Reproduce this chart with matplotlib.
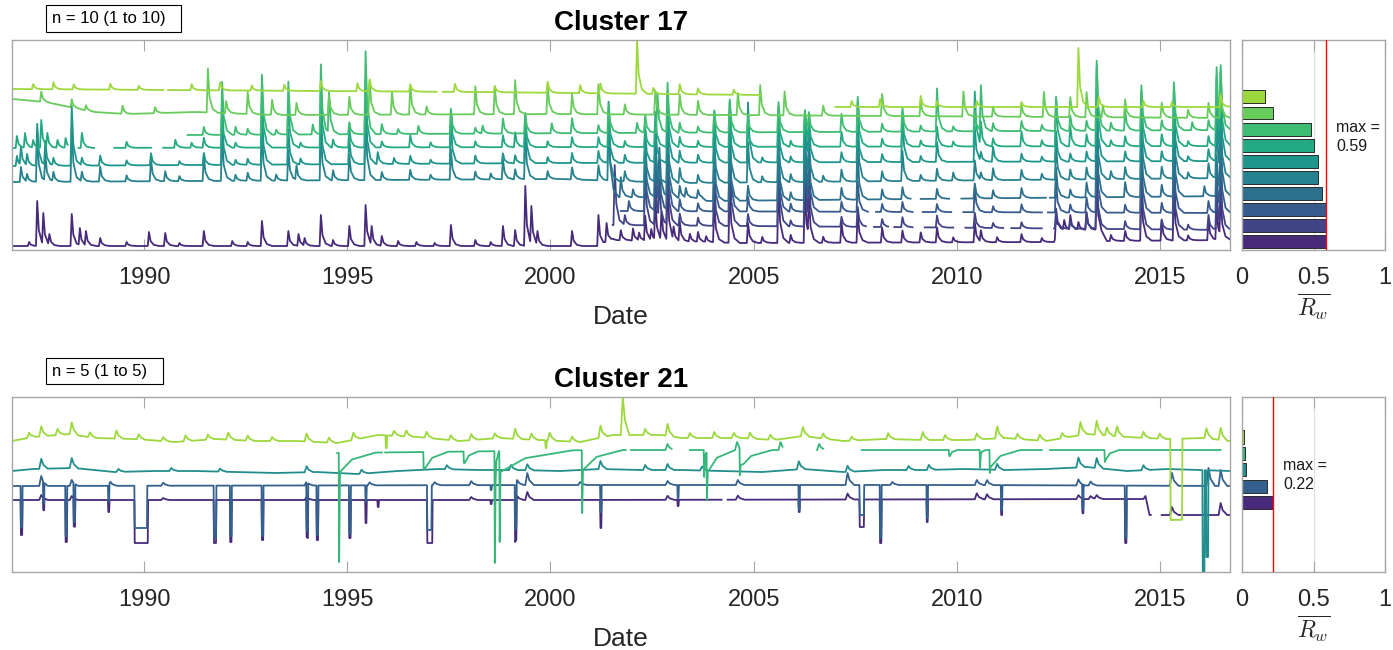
import numpy as np
import matplotlib
matplotlib.use("Agg")
import matplotlib.pyplot as plt
from matplotlib.patches import Rectangle

plt.rcParams["font.family"] = ["Liberation Sans", "DejaVu Sans"]
plt.rcParams["mathtext.fontset"] = "cm"

W, H = 1393, 650
X_LO, X_HI = 1986.75, 2016.72
year_ticks = [1990, 1995, 2000, 2005, 2010, 2015]

# ---------------- Cluster 17 (10 series, index 0 = series 1) ----------------
c17_rw = [0.59, 0.59, 0.585, 0.56, 0.53, 0.53, 0.505, 0.48, 0.22, 0.158]
c17_start = [X_LO, 2001.53, 2001.73, 2001.43, X_LO, X_LO, X_LO, 1991.07, X_LO, X_LO]

c17_level = [
    [(1986.75, 6), (2001.23, 6), (2001.53, 12), (2004.71, 9), (2012.39, 10), (2012.49, 22), (2013.49, 22), (2013.69, 11), (2016.72, 12)],
    [(2001.53, 27), (2008.21, 25), (2016.72, 22)],
    [(2001.73, 41), (2016.72, 39)],
    [(2001.43, 55), (2003.73, 54), (2003.83, 51), (2016.72, 56)],
    [(1986.75, 70), (2000.23, 73), (2003.23, 69), (2016.72, 74)],
    [(1986.75, 86), (2000.23, 89), (2016.72, 91)],
    [(1986.75, 104), (2016.72, 106)],
    [(1991.07, 117), (2016.72, 122)],
    [(1986.75, 153), (1987.57, 150), (1988.77, 140), (1989.57, 138), (1991.27, 140), (1993.25, 137), (2000.23, 138), (2016.72, 134)],
    [(1986.75, 163), (1998.23, 160), (2005.11, 157), (2007.01, 145), (2016.72, 145)],
]

# (year, rise above the local level)
c17_peaks = [
    [(1987.17, 4), (1987.37, 45), (1987.52, 33), (1987.67, 12), (1988.22, 32), (1988.42, 18), (1988.57, 15), (1988.92, 8),
     (1989.57, 4), (1990.12, 14), (1990.52, 13), (1990.87, 3), (1991.47, 15), (1992.17, 5), (1992.55, 4), (1992.9, 25),
     (1993.55, 15), (1993.8, 12), (1993.95, 8), (1994.35, 31), (1994.65, 6), (1995.05, 20), (1995.45, 41), (1995.6, 20),
     (1995.85, 10), (1996.25, 5), (1996.7, 4), (1997.15, 3), (1997.55, 21), (1998.15, 6), (1998.53, 4), (1998.83, 20),
     (1999.13, 16), (1999.38, 60), (1999.53, 40), (1999.68, 15), (2000.53, 15), (2001.18, 31), (2001.38, 20), (2001.73, 10),
     (2002.03, 12), (2002.18, 8), (2002.33, 25), (2002.48, 12), (2002.58, 40), (2002.73, 30), (2002.88, 60), (2003.03, 15),
     (2003.18, 20), (2003.43, 8), (2003.63, 10), (2003.83, 6), (2004.03, 40), (2004.41, 55), (2004.86, 20), (2005.21, 6),
     (2005.61, 60), (2005.91, 8), (2006.26, 55), (2006.36, 45), (2006.71, 6), (2007.16, 20), (2007.56, 30), (2008.16, 15),
     (2008.66, 12), (2009.11, 10), (2009.51, 15), (2009.91, 5), (2010.44, 20), (2010.59, 12), (2010.99, 5), (2011.59, 8),
     (2012.09, 4), (2012.44, 20), (2012.64, 10), (2012.79, 15), (2012.99, 8), (2013.19, 18), (2013.44, 40), (2013.79, 6),
     (2014.14, 10), (2014.54, 55), (2015.04, 20), (2015.34, 50), (2015.69, 5), (2016.19, 20), (2016.39, 35), (2016.49, 45)],
    [(2001.58, 60), (2001.83, 10), (2002.33, 55), (2002.58, 50), (2002.68, 45), (2002.88, 70), (2003.18, 12), (2003.63, 8),
     (2004.03, 45), (2004.41, 70), (2004.86, 12), (2005.61, 70), (2005.91, 6), (2006.26, 60), (2006.36, 55), (2007.16, 10),
     (2007.56, 20), (2008.16, 8), (2008.66, 10), (2009.51, 12), (2010.44, 15), (2010.89, 5), (2011.59, 6), (2012.44, 20),
     (2012.79, 8), (2013.19, 15), (2013.44, 60), (2014.14, 8), (2014.54, 60), (2015.04, 10), (2015.34, 60), (2015.69, 5),
     (2016.19, 15), (2016.39, 40), (2016.49, 60)],
    [(2001.93, 10), (2002.33, 55), (2002.58, 55), (2002.68, 50), (2002.88, 70), (2003.18, 12), (2003.63, 8), (2004.03, 50),
     (2004.41, 70), (2004.86, 15), (2005.61, 60), (2005.91, 8), (2006.26, 60), (2006.36, 55), (2007.16, 10), (2007.56, 30),
     (2008.16, 8), (2008.66, 10), (2009.51, 8), (2010.44, 25), (2010.89, 6), (2011.59, 8), (2012.44, 30), (2012.79, 8),
     (2013.19, 15), (2013.44, 70), (2014.14, 8), (2014.54, 60), (2015.04, 10), (2015.34, 60), (2016.19, 12), (2016.39, 40),
     (2016.49, 65)],
    [(2001.43, 95), (2001.73, 20), (2002.03, 8), (2002.33, 50), (2002.58, 55), (2002.68, 50), (2002.88, 65), (2003.18, 12),
     (2003.33, 10), (2003.63, 8), (2004.03, 50), (2004.41, 60), (2004.86, 15), (2005.61, 55), (2005.91, 8), (2006.26, 55),
     (2006.36, 50), (2007.16, 12), (2007.56, 45), (2008.16, 10), (2008.66, 12), (2009.51, 10), (2010.44, 15), (2010.89, 8),
     (2011.59, 10), (2012.44, 30), (2012.79, 8), (2013.19, 15), (2013.44, 70), (2014.14, 15), (2014.54, 60), (2015.04, 12),
     (2015.34, 65), (2016.09, 10), (2016.39, 40), (2016.49, 70)],
    [(1986.97, 15), (1987.12, 8), (1987.37, 50), (1987.57, 28), (1987.77, 10), (1988.22, 55), (1988.47, 10), (1988.92, 15),
     (1989.57, 6), (1990.17, 22), (1990.52, 10), (1990.87, 5), (1991.47, 25), (1991.92, 45), (1992.25, 6), (1992.55, 8),
     (1992.9, 50), (1993.25, 6), (1993.55, 30), (1993.75, 15), (1994.35, 50), (1994.65, 10), (1995.05, 25), (1995.45, 65),
     (1995.85, 8), (1996.55, 10), (1997.05, 5), (1997.55, 30), (1998.15, 8), (1998.53, 6), (1998.83, 20), (1999.13, 10),
     (1999.38, 45), (1999.93, 8), (2000.53, 12), (2001.18, 15), (2001.43, 55), (2001.83, 10), (2002.33, 40), (2002.58, 45),
     (2002.88, 60), (2003.18, 15), (2003.63, 8), (2004.03, 42), (2004.41, 55), (2004.86, 40), (2005.21, 6), (2005.61, 50),
     (2005.91, 8), (2006.26, 50), (2006.36, 45), (2006.71, 6), (2007.16, 12), (2007.56, 55), (2008.16, 10), (2008.66, 30),
     (2009.11, 6), (2009.51, 12), (2009.91, 8), (2010.44, 20), (2010.59, 8), (2010.89, 12), (2011.59, 10), (2012.09, 6),
     (2012.44, 35), (2012.79, 10), (2013.19, 12), (2013.44, 70), (2013.79, 8), (2014.14, 12), (2014.54, 60), (2015.04, 12),
     (2015.34, 65), (2015.69, 6), (2016.19, 15), (2016.39, 60), (2016.49, 65)],
    [(1986.87, 10), (1986.97, 20), (1987.12, 12), (1987.37, 42), (1987.57, 25), (1987.77, 8), (1988.22, 60), (1988.47, 8),
     (1988.92, 10), (1989.57, 5), (1990.17, 12), (1990.87, 4), (1991.47, 12), (1991.92, 50), (1992.25, 5), (1992.55, 6),
     (1992.9, 55), (1993.55, 35), (1993.85, 6), (1994.35, 55), (1995.05, 25), (1995.45, 70), (1995.75, 12), (1996.15, 6),
     (1996.55, 8), (1997.05, 4), (1997.55, 40), (1998.15, 8), (1998.83, 10), (1999.13, 8), (1999.38, 50), (1999.93, 6),
     (2000.53, 10), (2001.18, 12), (2001.43, 45), (2001.83, 8), (2002.33, 30), (2002.58, 40), (2002.88, 60), (2003.18, 12),
     (2003.63, 8), (2004.03, 40), (2004.41, 50), (2004.86, 60), (2005.21, 5), (2005.61, 45), (2005.91, 6), (2006.26, 45),
     (2006.36, 40), (2007.16, 10), (2007.56, 40), (2008.16, 8), (2008.66, 45), (2009.11, 6), (2009.51, 20), (2010.44, 35),
     (2010.59, 10), (2010.89, 15), (2011.59, 8), (2012.09, 5), (2012.44, 30), (2012.79, 8), (2013.19, 10), (2013.44, 70),
     (2014.14, 10), (2014.54, 55), (2015.04, 10), (2015.34, 60), (2015.69, 5), (2016.19, 12), (2016.39, 65), (2016.49, 70)],
    [(1986.87, 12), (1987.07, 15), (1987.27, 8), (1987.47, 28), (1987.62, 15), (1987.87, 8), (1988.07, 10), (1988.47, 15),
     (1988.87, 10), (1989.57, 6), (1990.77, 8), (1991.17, 5), (1991.47, 10), (1991.92, 40), (1992.25, 5), (1992.9, 60),
     (1993.55, 45), (1993.85, 5), (1994.35, 65), (1994.65, 8), (1995.05, 20), (1995.45, 70), (1995.85, 6), (1996.55, 12),
     (1997.05, 5), (1997.55, 37), (1998.15, 6), (1998.83, 12), (1999.13, 15), (1999.38, 30), (1999.93, 6), (2000.53, 10),
     (2001.18, 10), (2001.43, 40), (2001.83, 6), (2002.33, 20), (2002.58, 35), (2002.88, 55), (2003.18, 10), (2003.63, 6),
     (2004.03, 36), (2004.41, 45), (2004.86, 20), (2005.61, 40), (2005.91, 6), (2006.26, 36), (2006.36, 30), (2007.16, 15),
     (2007.56, 45), (2008.16, 8), (2008.66, 35), (2009.11, 6), (2009.51, 20), (2009.91, 5), (2010.44, 55), (2010.59, 25),
     (2010.89, 8), (2011.59, 15), (2012.09, 6), (2012.44, 48), (2012.79, 20), (2013.19, 12), (2013.44, 80), (2013.79, 6),
     (2014.14, 10), (2014.54, 55), (2015.04, 12), (2015.34, 60), (2015.69, 5), (2016.19, 10), (2016.39, 70), (2016.49, 75)],
    [(1991.47, 8), (1991.92, 53), (1992.25, 8), (1992.55, 6), (1992.9, 60), (1993.25, 5), (1993.55, 53), (1994.15, 10),
     (1994.35, 70), (1994.55, 42), (1995.05, 12), (1995.45, 83), (1995.85, 10), (1996.25, 5), (1996.75, 8), (1997.55, 25),
     (1998.15, 6), (1998.33, 8), (1998.83, 15), (1999.38, 20), (2000.03, 10), (2000.53, 15), (2001.18, 8), (2001.43, 30),
     (2002.13, 10), (2002.33, 18), (2002.63, 40), (2002.88, 50), (2003.18, 10), (2003.63, 6), (2004.03, 22), (2004.41, 33),
     (2004.86, 15), (2005.61, 30), (2006.26, 22), (2006.36, 20), (2007.16, 18), (2007.56, 35), (2008.16, 8), (2008.66, 24),
     (2009.11, 6), (2009.51, 43), (2009.91, 5), (2010.44, 20), (2010.59, 46), (2010.89, 8), (2011.59, 10), (2012.09, 6),
     (2012.44, 34), (2012.79, 15), (2013.19, 10), (2013.44, 70), (2013.79, 8), (2014.14, 20), (2014.54, 45), (2015.04, 10),
     (2015.34, 48), (2015.79, 8), (2016.19, 10), (2016.39, 63), (2016.49, 65)],
    [(1987.47, 10), (1988.22, 8), (1988.57, 5), (1989.47, 8), (1990.27, 6), (1991.57, 44), (1992.02, 12), (1992.55, 22),
     (1993.15, 15), (1993.75, 12), (1994.55, 20), (1995.05, 18), (1995.55, 34), (1996.1, 22), (1996.55, 30), (1996.95, 8),
     (1998.15, 28), (1998.63, 28), (1999.13, 34), (1999.93, 30), (2000.53, 20), (2001.18, 30), (2001.83, 10), (2002.58, 24),
     (2003.18, 20), (2003.63, 14), (2004.61, 22), (2005.16, 30), (2005.76, 24), (2006.71, 10), (2008.16, 22), (2009.11, 15),
     (2010.16, 25), (2010.89, 10), (2011.59, 12), (2012.14, 25), (2012.79, 20), (2013.19, 25), (2013.59, 12), (2014.14, 18),
     (2015.04, 15), (2015.69, 8), (2016.19, 15), (2016.49, 25)],
    [(1987.27, 5), (1987.77, 7), (1988.27, 5), (1989.17, 6), (1989.87, 4), (1991.17, 6), (1991.87, 8), (1992.65, 5),
     (1993.45, 6), (1994.35, 10), (1995.25, 8), (1995.55, 12), (1996.55, 7), (1997.65, 8), (1998.63, 6), (1999.93, 11),
     (2000.73, 8), (2001.23, 10), (2002.13, 55), (2002.53, 6), (2003.18, 10), (2003.63, 6), (2004.51, 5), (2007.41, 6),
     (2008.11, 8), (2009.11, 11), (2009.51, 6), (2010.49, 6), (2011.59, 5), (2012.99, 59), (2013.49, 10), (2014.59, 6),
     (2015.29, 5), (2016.49, 12)],
]

c17_gaps = [
    [],
    [(2007.76, 2007.96), (2008.31, 2008.46), (2008.91, 2009.21), (2009.91, 2010.21), (2011.14, 2011.34), (2012.09, 2012.39)],
    [(2007.81, 2008.01), (2008.91, 2009.16), (2009.86, 2010.16), (2012.09, 2012.24)],
    [(2008.86, 2009.11), (2009.81, 2010.11), (2012.19, 2012.29)],
    [],
    [],
    [(1988.12, 1988.39), (1988.77, 1989.27), (1990.17, 1990.47)],
    [],
    [],
    [(1990.47, 1990.59), (1997.2, 1997.35), (2005.16, 2007.01)],
]

# ---------------- Cluster 21 (5 series, index 0 = series 1) ----------------
c21_rw = [0.22, 0.174, 0.025, 0.018, 0.014]
c21_start = [X_LO, X_LO, X_LO, 1994.75, X_LO]
c21_end = [X_HI, X_HI, X_HI, 2016.49, X_HI]

c21_level = [
    [(1986.75, 72), (2000.23, 72), (2014.59, 73), (2014.64, 76), (2014.74, 57), (2016.72, 57)],
    [(1986.75, 86), (2000.23, 87), (2010.19, 87), (2016.72, 86)],
    [(1986.75, 101), (1987.27, 103), (1988.27, 104), (1989.27, 100), (1990.27, 101), (1991.27, 101), (1992.25, 100),
     (1993.25, 99), (1994.25, 100), (1995.25, 98), (1996.25, 101), (1997.25, 103), (1998.23, 102), (1999.23, 102),
     (2000.23, 101), (2001.23, 103), (2002.23, 102), (2003.23, 102), (2004.21, 101), (2005.21, 100), (2006.21, 103),
     (2007.21, 100), (2008.21, 102), (2009.21, 102), (2010.19, 103), (2011.19, 102), (2012.19, 103), (2013.19, 105),
     (2014.19, 101), (2015.19, 103), (2016.72, 101)],
    [(1994.75, 119), (2001.23, 122), (2016.49, 122)],
    [(1986.75, 131), (1987.27, 135), (1988.17, 138), (1988.77, 134), (1989.77, 133), (1990.77, 130), (1991.77, 133),
     (1992.75, 131), (1993.75, 131), (1994.75, 129), (1995.75, 137), (1996.75, 135), (1997.75, 131), (1998.73, 134),
     (1999.73, 132), (2000.73, 130), (2001.53, 137), (2002.73, 137), (2003.23, 134), (2004.71, 134), (2005.51, 132),
     (2006.21, 136), (2007.21, 131), (2008.21, 133), (2009.21, 132), (2010.19, 132), (2011.19, 134), (2012.19, 131),
     (2013.19, 138), (2014.19, 135), (2015.19, 133), (2016.09, 134), (2016.72, 131)],
]

c21_bumps = [
    [(1987.47, 5), (1988.22, 4), (1990.47, 2), (1994.0, 3), (1998.05, 3), (1999.18, 4), (1999.43, 8), (2002.88, 4),
     (2004.61, 4), (2007.31, 6), (2010.49, 6), (2010.74, 5), (2012.99, 4), (2013.29, 3), (2013.44, 4), (2015.29, 8),
     (2016.49, 12)],
    [(1987.47, 10), (1988.22, 6), (1989.17, 4), (1990.47, 3), (1994.0, 4), (1995.55, 3), (1997.15, 3), (1998.05, 4),
     (1999.18, 5), (1999.43, 12), (2000.73, 3), (2002.88, 4), (2004.61, 5), (2007.31, 12), (2008.41, 3), (2010.49, 5),
     (2010.74, 5), (2012.99, 6), (2013.29, 4), (2015.29, 13), (2016.19, 18), (2016.49, 16)],
    [(1987.47, 10), (1988.22, 10), (1989.37, 3), (1990.67, 3), (1991.87, 3), (1994.0, 6), (1995.35, 4), (1997.45, 4),
     (1999.03, 5), (1999.43, 6), (2001.23, 8), (2002.33, 5), (2002.88, 6), (2003.73, 4), (2006.11, 8), (2007.31, 6),
     (2008.81, 4), (2009.31, 5), (2010.99, 6), (2012.99, 10), (2013.44, 10), (2014.59, 5)],
    [(2002.88, 6), (2004.59, 8), (2005.66, 8), (2006.61, 6)],
    [(1987.17, 5), (1987.47, 10), (1987.87, 6), (1988.22, 12), (1988.67, 5), (1989.32, 8), (1989.87, 5), (1990.47, 4),
     (1991.02, 6), (1991.57, 5), (1992.07, 7), (1992.55, 5), (1993.15, 4), (1994.0, 8), (1994.55, 5), (1995.15, 7),
     (1996.15, 5), (1996.45, 6), (1996.95, 6), (1997.55, 5), (1998.05, 6), (1998.63, 5), (1999.13, 10), (1999.53, 6),
     (1999.98, 8), (2000.53, 5), (2001.23, 12), (2001.78, 38), (2002.33, 6), (2002.88, 12), (2003.43, 5), (2004.03, 6),
     (2004.51, 5), (2004.91, 6), (2005.41, 5), (2006.21, 9), (2006.71, 5), (2007.41, 4), (2008.31, 6), (2009.16, 8),
     (2009.71, 5), (2010.49, 6), (2010.99, 12), (2011.49, 5), (2012.04, 6), (2012.59, 5), (2013.04, 13), (2013.44, 14),
     (2013.69, 8), (2013.94, 10), (2014.59, 6), (2014.99, 5), (2016.14, 10), (2016.49, 12)],
]

# (year, width, lowest value)
c21_dips = [
    [(1986.97, 0.03, 37), (1987.52, 0.02, 60), (1988.07, 0.03, 30), (1988.27, 0.03, 44), (1989.12, 0.02, 60),
     (1989.77, 0.32, 29), (1991.72, 0.05, 29), (1992.12, 0.03, 30), (1992.9, 0.03, 32), (1994.0, 0.03, 32),
     (1994.25, 0.03, 32), (1995.05, 0.03, 34), (1995.45, 0.02, 49), (1995.75, 0.02, 65), (1996.97, 0.12, 29),
     (1998.53, 0.02, 68), (1999.13, 0.03, 30), (2001.23, 0.02, 44), (2003.13, 0.02, 66), (2006.11, 0.02, 60),
     (2007.61, 0.1, 45), (2008.11, 0.03, 29), (2009.26, 0.02, 50), (2011.09, 0.02, 57), (2013.09, 0.02, 58),
     (2014.14, 0.03, 29)],
    [(1986.97, 0.03, 45), (1987.52, 0.02, 65), (1988.07, 0.03, 36), (1988.27, 0.03, 48), (1989.12, 0.02, 70),
     (1989.77, 0.3, 44), (1991.72, 0.05, 34), (1992.12, 0.03, 36), (1992.9, 0.03, 36), (1994.0, 0.03, 38),
     (1994.25, 0.03, 37), (1995.05, 0.03, 38), (1995.45, 0.02, 70), (1996.97, 0.1, 42), (1998.53, 0.02, 82),
     (1999.13, 0.03, 42), (2001.23, 0.02, 60), (2003.13, 0.02, 74), (2006.11, 0.02, 62), (2007.61, 0.1, 57),
     (2008.11, 0.03, 34), (2009.26, 0.02, 54), (2011.09, 0.02, 62), (2013.09, 0.02, 62), (2014.14, 0.03, 34)],
    [(2016.05, 0.04, -2), (2016.14, 0.04, 15)],
    [],
    [(1995.95, 0.02, 124), (1999.88, 0.02, 124), (2015.26, 0.28, 52)],
]

# (year, lowest value, value after the drop, recovery duration)
c21_recov = [
    [], [], [],
    [(1994.8, 10, 100, 0.9), (1996.88, 103, 103, 0.6), (1997.87, 109, 109, 0.35), (1998.63, 9, 90, 0.1),
     (1998.75, 30, 100, 1.8), (2000.78, 59, 102, 1.0), (2003.78, 95, 110, 0.1), (2003.85, 72, 100, 0.7),
     (2004.66, 94, 105, 0.8), (2009.81, 116, 116, 0.2), (2010.57, 104, 118, 0.15), (2010.81, 99, 105, 0.75),
     (2013.64, 110, 112, 0.35)],
    [],
]

c21_gaps = [
    [(2004.21, 2004.36), (2014.77, 2015.04)],
    [],
    [],
    [(1995.85, 1995.93), (2001.85, 2001.98), (2002.98, 2003.43), (2005.71, 2006.56), (2006.71, 2007.66), (2012.09, 2012.29)],
    [],
]


def series_xy(level, start, end, peaks=(), dips=(), recov=(), gaps=(),
              dx=(-0.03, 0.0, 0.04, 0.12, 0.25), fr=(0.0, 1.0, 0.35, 0.08, 0.0)):
    lx = np.array([p[0] for p in level], float)
    ly = np.array([p[1] for p in level], float)

    def base(t):
        return np.interp(t, lx, ly)

    shapes = []
    for t, r in peaks:
        shapes.append((t + np.array(dx), r * np.array(fr)))
    for t, w, low in dips:
        d = low - base(t)
        shapes.append((np.array([t - 0.01, t, t + w, t + w + 0.01]), np.array([0, d, d, 0])))
    for t, low, rec, dur in recov:
        b = base(t)
        shapes.append((np.array([t - 0.01, t, t + 0.02, t + 0.35 * dur, t + dur]),
                       np.array([0, low - b, rec - b, 0.35 * (rec - b), 0])))

    xs = set(lx.tolist()) | {start, end}
    for xp, _ in shapes:
        xs.update(xp.tolist())
    for a, b in gaps:
        xs.update([a, b, 0.5 * (a + b)])
    x = np.array(sorted(v for v in xs if start <= v <= end))
    up = np.zeros_like(x)
    down = np.zeros_like(x)
    for xp, fp in shapes:
        v = np.interp(x, xp, fp, left=0, right=0)
        up = np.maximum(up, v)
        down = np.minimum(down, v)
    y = base(x) + up + down
    for a, b in gaps:
        y[(x > a) & (x < b)] = np.nan
    return x, y


def style_axes(ax):
    for s in ax.spines.values():
        s.set_color("#a6a6a6")
        s.set_linewidth(1.0)
    ax.tick_params(axis="x", direction="in", top=True, bottom=True, length=8,
                   color="#a6a6a6", labelcolor="#262626", labelsize=17, pad=12.5)
    ax.set_yticks([])


fig = plt.figure(figsize=(W / 100, H / 100), dpi=100)

panels = [
    dict(top=40, bottom=250, title="Cluster 17", n_text="n = 10 (1 to 10)", box=(46, 5, 135, 27),
         rw=c17_rw, bar_ylim=(0.48, 13.54), max_xy=(0.657, 0.538), ylim=(2, 212)),
    dict(top=397, bottom=572, title="Cluster 21", n_text="n = 5 (1 to 5)", box=(46, 358, 117, 26),
         rw=c21_rw, bar_ylim=(-3.23, 7.44), max_xy=(0.287, 0.554), ylim=(0, 175)),
]

for k, p in enumerate(panels):
    h = p["bottom"] - p["top"]
    ax = fig.add_axes([12 / W, 1 - p["bottom"] / H, 1218 / W, h / H])
    bx = fig.add_axes([1242 / W, 1 - p["bottom"] / H, 143 / W, h / H])
    n = len(p["rw"])
    colors = plt.cm.viridis(np.linspace(0.12, 0.85, n))

    for i in range(n):
        if k == 0:
            x, y = series_xy(c17_level[i], c17_start[i], X_HI, peaks=c17_peaks[i], gaps=c17_gaps[i])
        else:
            x, y = series_xy(c21_level[i], c21_start[i], c21_end[i], peaks=c21_bumps[i],
                             dips=c21_dips[i], recov=c21_recov[i], gaps=c21_gaps[i],
                             dx=(-0.05, 0.0, 0.05, 0.16), fr=(0.0, 1.0, 0.4, 0.0))
        ax.plot(x, y, color=colors[i], lw=1.3)

    ax.set_xlim(X_LO, X_HI)
    ax.set_ylim(*p["ylim"])
    ax.set_xticks(year_ticks)
    ax.set_xticklabels([str(t) for t in year_ticks])
    style_axes(ax)
    ax.set_xlabel("Date", fontsize=19, color="#262626", labelpad=11)
    ax.set_title(p["title"], fontsize=20, fontweight="bold", pad=7)

    pos = np.arange(1, n + 1)
    bx.barh(pos, p["rw"], height=0.8, color=colors, edgecolor="#2b2b2b", linewidth=0.7, zorder=2)
    bx.axvline(0.5, color="#e2e2e2", lw=1.0, zorder=0)
    bx.axvline(max(p["rw"]), color="red", lw=1.0, zorder=3)
    bx.set_xlim(0, 1)
    bx.set_ylim(*p["bar_ylim"])
    bx.set_xticks([0, 0.5, 1])
    bx.set_xticklabels(["0", "0.5", "1"])
    style_axes(bx)
    bx.set_xlabel(r"$\overline{R_w}$", fontsize=17, color="#262626", labelpad=2)
    bx.text(p["max_xy"][0], p["max_xy"][1], "max =\n%.2f" % max(p["rw"]), transform=bx.transAxes,
            fontsize=11.5, va="center", ha="left", linespacing=1.3, color="#1a1a1a")

    bxx, byy, bw, bh = p["box"]
    fig.patches.append(Rectangle((bxx / W, 1 - (byy + bh) / H), bw / W, bh / H, transform=fig.transFigure,
                                 facecolor="white", edgecolor="black", lw=0.8))
    fig.text((bxx + 6) / W, 1 - (byy + bh / 2 + 0.5) / H, p["n_text"], fontsize=12, va="center", ha="left")

fig.savefig("out.png", dpi=100)
